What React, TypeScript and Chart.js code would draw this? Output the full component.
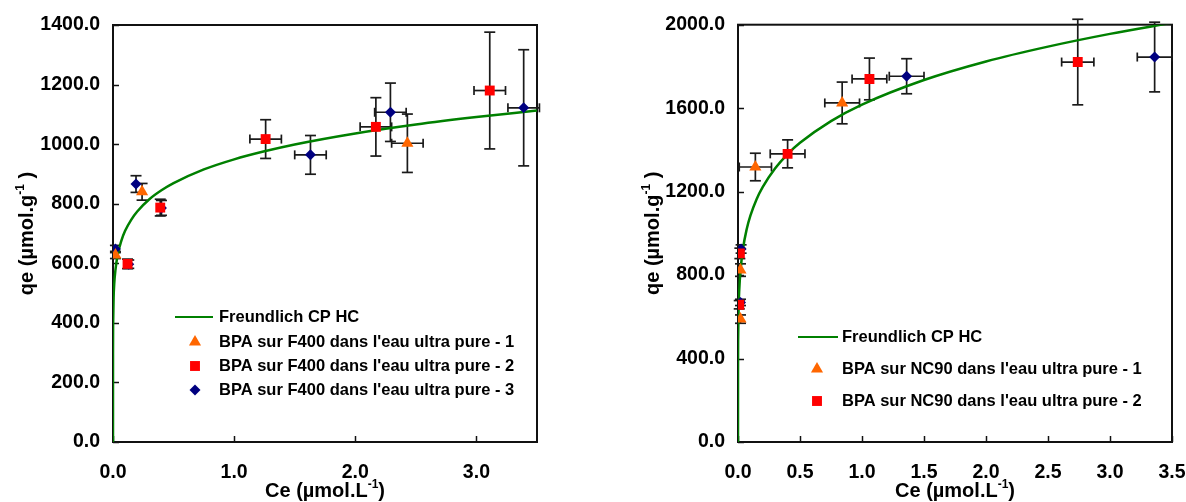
import React, { useEffect, useRef } from "react";
import { Chart, registerables } from "chart.js";

Chart.register(...registerables);

const FONT = '"Liberation Sans", Arial, Helvetica, sans-serif';

// ---------------- Left chart : F400 ----------------
const L_CURVE_CE = [0, 0.0001, 0.001, 0.005, 0.01, 0.02, 0.04, 0.07, 0.1, 0.15, 0.2, 0.3, 0.4, 0.5, 0.75, 1.0, 1.25, 1.5, 2.0, 2.5, 3.0, 3.5];
const L_CURVE_QE = [0, 295, 395, 485, 530, 577, 631, 677, 709, 746, 774, 815, 845, 869, 915, 949, 976, 999, 1036, 1066, 1091, 1113];

const L_S1_CE = [0.02, 0.24, 2.43];
const L_S1_QE = [628, 840, 1003];
const L_S1_CE_ERR = [0, 0, 0.13];
const L_S1_QE_ERR = [12, 28, 98];

const L_S2_CE = [0.12, 0.39, 1.26, 2.17, 3.11];
const L_S2_QE = [598, 787, 1017, 1058, 1180];
const L_S2_CE_ERR = [0, 0, 0.13, 0.13, 0.13];
const L_S2_QE_ERR = [16, 28, 65, 98, 196];

const L_S3_CE = [0.02, 0.13, 0.19, 0.40, 1.63, 2.29, 3.39];
const L_S3_QE = [648, 597, 866, 786, 964, 1107, 1122];
const L_S3_CE_ERR = [0, 0, 0, 0, 0.13, 0.13, 0.13];
const L_S3_QE_ERR = [12, 14, 28, 25, 65, 98, 195];

const L_LABELS = [
  "Freundlich CP HC",
  "BPA sur F400 dans l'eau ultra pure - 1",
  "BPA sur F400 dans l'eau ultra pure - 2",
  "BPA sur F400 dans l'eau ultra pure - 3",
];

// ---------------- Right chart : NC90 ----------------
const R_CURVE_CE = [0, 0.0001, 0.001, 0.005, 0.01, 0.02, 0.04, 0.07, 0.1, 0.15, 0.2, 0.3, 0.4, 0.5, 0.75, 1.0, 1.5, 2.0, 2.5, 3.0, 3.5];
const R_CURVE_QE = [0, 327, 488, 645, 727, 820, 925, 1020, 1085, 1164, 1223, 1312, 1380, 1434, 1538, 1617, 1735, 1824, 1895, 1956, 2009];

const R_S1_CE = [0.02, 0.02, 0.14, 0.84];
const R_S1_QE = [589, 824, 1318, 1625];
const R_S1_CE_ERR = [0, 0, 0.13, 0.14];
const R_S1_QE_ERR = [20, 30, 66, 100];

const R_S2_CE = [0.01, 0.015, 0.40, 1.06, 2.74];
const R_S2_QE = [658, 904, 1381, 1740, 1821];
const R_S2_CE_ERR = [0, 0, 0.14, 0.14, 0.13];
const R_S2_QE_ERR = [20, 25, 67, 100, 205];

const R_S3_CE = [0.02, 0.025, 1.36, 3.36];
const R_S3_QE = [669, 925, 1753, 1845];
const R_S3_CE_ERR = [0, 0, 0.14, 0.14];
const R_S3_QE_ERR = [15, 20, 84, 167];

const R_LABELS = [
  "Freundlich CP HC",
  "BPA sur NC90 dans l'eau ultra pure - 1",
  "BPA sur NC90 dans l'eau ultra pure - 2",
];

const ORANGE = "#FF6600";
const RED = "#FF0000";
const NAVY = "#000080";
const GREEN = "#008000";

type Series = {
  label: string;
  style: string;
  color: string;
  radius: number;
  xs: number[];
  ys: number[];
  xErr: number[];
  yErr: number[];
  inLegend: boolean;
};

type Cfg = {
  xMax: number;
  xStep: number;
  yMax: number;
  yStep: number;
  yAxisWidth: number;
  padRight: number;
  padTop: number;
  curveX: number[];
  curveY: number[];
  curveLabel: string;
  series: Series[];
  legend: { lineX1: number; lineX2: number; markerX: number; textX: number; ys: number[] };
  yTitleX: number;
  xTitleY: number;
};

function drawTitle(ctx: CanvasRenderingContext2D, cx: number, cy: number, rotate: boolean, main: string, sup: string, tail: string, size: number) {
  ctx.save();
  ctx.translate(cx, cy);
  if (rotate) ctx.rotate(-Math.PI / 2);
  const f = `bold ${size}px ${FONT}`;
  const fs = `bold ${Math.round(size * 0.62)}px ${FONT}`;
  ctx.font = f;
  const w1 = ctx.measureText(main).width;
  const w3 = ctx.measureText(tail).width;
  ctx.font = fs;
  const w2 = ctx.measureText(sup).width;
  let x = -(w1 + w2 + w3) / 2;
  const base = size * 0.36;
  ctx.fillStyle = "#000";
  ctx.textAlign = "left";
  ctx.textBaseline = "alphabetic";
  ctx.font = f;
  ctx.fillText(main, x, base);
  x += w1;
  ctx.font = fs;
  ctx.fillText(sup, x, base - size * 0.45);
  x += w2;
  ctx.font = f;
  ctx.fillText(tail, x, base);
  ctx.restore();
}

function drawMarker(ctx: CanvasRenderingContext2D, style: string, x: number, y: number, r: number, color: string) {
  ctx.save();
  ctx.fillStyle = color;
  ctx.beginPath();
  if (style === "triangle") {
    ctx.moveTo(x, y - r);
    ctx.lineTo(x + r * Math.sin((2 * Math.PI) / 3), y - r * Math.cos((2 * Math.PI) / 3));
    ctx.lineTo(x + r * Math.sin((4 * Math.PI) / 3), y - r * Math.cos((4 * Math.PI) / 3));
  } else if (style === "rect") {
    const s = r * Math.SQRT1_2;
    ctx.rect(x - s, y - s, 2 * s, 2 * s);
  } else {
    ctx.moveTo(x - r, y);
    ctx.lineTo(x, y - r);
    ctx.lineTo(x + r, y);
    ctx.lineTo(x, y + r);
  }
  ctx.closePath();
  ctx.fill();
  ctx.restore();
}

function makeChart(canvas: HTMLCanvasElement, cfg: Cfg) {
  const tickFont = { family: FONT, size: 19.5, weight: "bold" as const };
  const fmt = (v: any) => Number(v).toFixed(1);

  const datasets: any[] = cfg.series.map((s) => ({
    label: s.label,
    data: s.xs.map((x, i) => ({ x, y: s.ys[i] })),
    pointStyle: s.style,
    pointRadius: s.radius,
    pointHoverRadius: s.radius,
    pointBackgroundColor: s.color,
    pointBorderWidth: 0,
    backgroundColor: s.color,
    borderColor: s.color,
    showLine: false,
  }));
  datasets.push({
    label: cfg.curveLabel,
    data: cfg.curveX.map((x, i) => ({ x, y: cfg.curveY[i] })),
    showLine: true,
    pointRadius: 0,
    borderColor: GREEN,
    borderWidth: 2.5,
    cubicInterpolationMode: "monotone",
    fill: false,
  });

  const framePlugin = {
    id: "frameAndErrors",
    beforeDatasetsDraw(chart: any) {
      const { ctx, chartArea: a, scales } = chart;
      const xs = scales.x;
      const ys = scales.y;
      ctx.save();
      ctx.strokeStyle = "#111";
      ctx.lineWidth = 2;
      ctx.strokeRect(a.left, a.top, a.right - a.left, a.bottom - a.top);
      ctx.lineWidth = 1.5;
      ys.ticks.forEach((t: any) => {
        const py = Math.round(ys.getPixelForValue(t.value)) + 0.5;
        ctx.beginPath();
        ctx.moveTo(a.left, py);
        ctx.lineTo(a.left + 6, py);
        ctx.stroke();
      });
      xs.ticks.forEach((t: any) => {
        const px = Math.round(xs.getPixelForValue(t.value)) + 0.5;
        ctx.beginPath();
        ctx.moveTo(px, a.bottom);
        ctx.lineTo(px, a.bottom - 6);
        ctx.stroke();
      });
      ctx.strokeStyle = "#1a1a1a";
      ctx.lineWidth = 1.7;
      const seg = (x1: number, y1: number, x2: number, y2: number) => {
        ctx.beginPath();
        ctx.moveTo(x1, y1);
        ctx.lineTo(x2, y2);
        ctx.stroke();
      };
      for (let k = cfg.series.length - 1; k >= 0; k--) {
        const s = cfg.series[k];
        s.xs.forEach((xv, i) => {
          const px = xs.getPixelForValue(xv);
          const py = ys.getPixelForValue(s.ys[i]);
          if (s.yErr[i] > 0) {
            const y1 = ys.getPixelForValue(s.ys[i] + s.yErr[i]);
            const y2 = ys.getPixelForValue(s.ys[i] - s.yErr[i]);
            seg(px, y1, px, y2);
            seg(px - 5.5, y1, px + 5.5, y1);
            seg(px - 5.5, y2, px + 5.5, y2);
          }
          if (s.xErr[i] > 0) {
            const x1 = xs.getPixelForValue(xv - s.xErr[i]);
            const x2 = xs.getPixelForValue(xv + s.xErr[i]);
            seg(x1, py, x2, py);
            seg(x1, py - 4.5, x1, py + 4.5);
            seg(x2, py - 4.5, x2, py + 4.5);
          }
        });
      }
      ctx.restore();
    },
    afterDraw(chart: any) {
      const { ctx, chartArea: a } = chart;
      drawTitle(ctx, (a.left + a.right) / 2, cfg.xTitleY, false, "Ce (µmol.L", "-1", ")", 20);
      drawTitle(ctx, cfg.yTitleX, (a.top + a.bottom) / 2, true, "qe (µmol.g", "-1", " )", 20);
      const L = cfg.legend;
      ctx.save();
      ctx.font = `bold 16.5px ${FONT}`;
      ctx.fillStyle = "#000";
      ctx.textAlign = "left";
      ctx.textBaseline = "middle";
      ctx.strokeStyle = GREEN;
      ctx.lineWidth = 2;
      ctx.beginPath();
      ctx.moveTo(L.lineX1, L.ys[0]);
      ctx.lineTo(L.lineX2, L.ys[0]);
      ctx.stroke();
      ctx.fillText(cfg.curveLabel, L.textX, L.ys[0]);
      const shown = cfg.series.filter((s) => s.inLegend);
      shown.forEach((s, i) => {
        const y = L.ys[i + 1];
        drawMarker(ctx, s.style, L.markerX, y, s.radius, s.color);
        ctx.fillStyle = "#000";
        ctx.fillText(s.label, L.textX, y);
      });
      ctx.restore();
    },
  };

  return new Chart(canvas, {
    type: "scatter",
    data: { datasets },
    options: {
      animation: false,
      responsive: false,
      devicePixelRatio: 1,
      layout: { padding: { top: cfg.padTop, right: cfg.padRight, left: 0, bottom: 0 } },
      plugins: { legend: { display: false }, tooltip: { enabled: false } },
      scales: {
        x: {
          type: "linear",
          min: 0,
          max: cfg.xMax,
          grid: { display: false, drawTicks: false },
          border: { display: false },
          ticks: {
            stepSize: cfg.xStep,
            includeBounds: false,
            autoSkip: false,
            maxRotation: 0,
            padding: 19,
            color: "#000",
            font: tickFont,
            callback: fmt,
          },
          afterFit: (s: any) => {
            s.height = 60;
          },
        },
        y: {
          type: "linear",
          min: 0,
          max: cfg.yMax,
          grid: { display: false, drawTicks: false },
          border: { display: false },
          ticks: {
            stepSize: cfg.yStep,
            includeBounds: false,
            autoSkip: false,
            padding: 13,
            color: "#000",
            font: tickFont,
            callback: fmt,
          },
          afterFit: (s: any) => {
            s.width = cfg.yAxisWidth;
          },
        },
      },
    } as any,
    plugins: [framePlugin as any],
  });
}

const LEFT_CFG: Cfg = {
  xMax: 3.5,
  xStep: 1,
  yMax: 1400,
  yStep: 200,
  yAxisWidth: 113,
  padRight: 53,
  padTop: 25,
  curveX: L_CURVE_CE,
  curveY: L_CURVE_QE,
  curveLabel: L_LABELS[0],
  series: [
    { label: L_LABELS[1], style: "triangle", color: ORANGE, radius: 7, xs: L_S1_CE, ys: L_S1_QE, xErr: L_S1_CE_ERR, yErr: L_S1_QE_ERR, inLegend: true },
    { label: L_LABELS[2], style: "rect", color: RED, radius: 7, xs: L_S2_CE, ys: L_S2_QE, xErr: L_S2_CE_ERR, yErr: L_S2_QE_ERR, inLegend: true },
    { label: L_LABELS[3], style: "rectRot", color: NAVY, radius: 5.5, xs: L_S3_CE, ys: L_S3_QE, xErr: L_S3_CE_ERR, yErr: L_S3_QE_ERR, inLegend: true },
  ],
  legend: { lineX1: 175, lineX2: 213, markerX: 195, textX: 219, ys: [317, 342, 366, 390] },
  yTitleX: 26,
  xTitleY: 490,
};

const RIGHT_CFG: Cfg = {
  xMax: 3.5,
  xStep: 0.5,
  yMax: 2000,
  yStep: 400,
  yAxisWidth: 148,
  padRight: 58,
  padTop: 24,
  curveX: R_CURVE_CE,
  curveY: R_CURVE_QE,
  curveLabel: R_LABELS[0],
  series: [
    { label: R_LABELS[1], style: "triangle", color: ORANGE, radius: 7, xs: R_S1_CE, ys: R_S1_QE, xErr: R_S1_CE_ERR, yErr: R_S1_QE_ERR, inLegend: true },
    { label: R_LABELS[2], style: "rect", color: RED, radius: 7, xs: R_S2_CE, ys: R_S2_QE, xErr: R_S2_CE_ERR, yErr: R_S2_QE_ERR, inLegend: true },
    { label: "BPA sur NC90 - 3", style: "rectRot", color: NAVY, radius: 5.5, xs: R_S3_CE, ys: R_S3_QE, xErr: R_S3_CE_ERR, yErr: R_S3_QE_ERR, inLegend: false },
  ],
  legend: { lineX1: 208, lineX2: 248, markerX: 227, textX: 252, ys: [337, 369, 401] },
  yTitleX: 62,
  xTitleY: 490,
};

export default function App() {
  const leftRef = useRef<HTMLCanvasElement | null>(null);
  const rightRef = useRef<HTMLCanvasElement | null>(null);

  useEffect(() => {
    const charts: Chart[] = [];
    if (leftRef.current) charts.push(makeChart(leftRef.current, LEFT_CFG));
    if (rightRef.current) charts.push(makeChart(rightRef.current, RIGHT_CFG));
    return () => charts.forEach((c) => c.destroy());
  }, []);

  return (
    <div style={{ position: "fixed", left: 0, top: 0, width: 1186, height: 502, background: "#fff", overflow: "hidden" }}>
      <canvas ref={leftRef} width={590} height={502} style={{ position: "absolute", left: 0, top: 0, width: 590, height: 502 }} />
      <canvas ref={rightRef} width={640} height={502} style={{ position: "absolute", left: 590, top: 0, width: 640, height: 502 }} />
    </div>
  );
}
